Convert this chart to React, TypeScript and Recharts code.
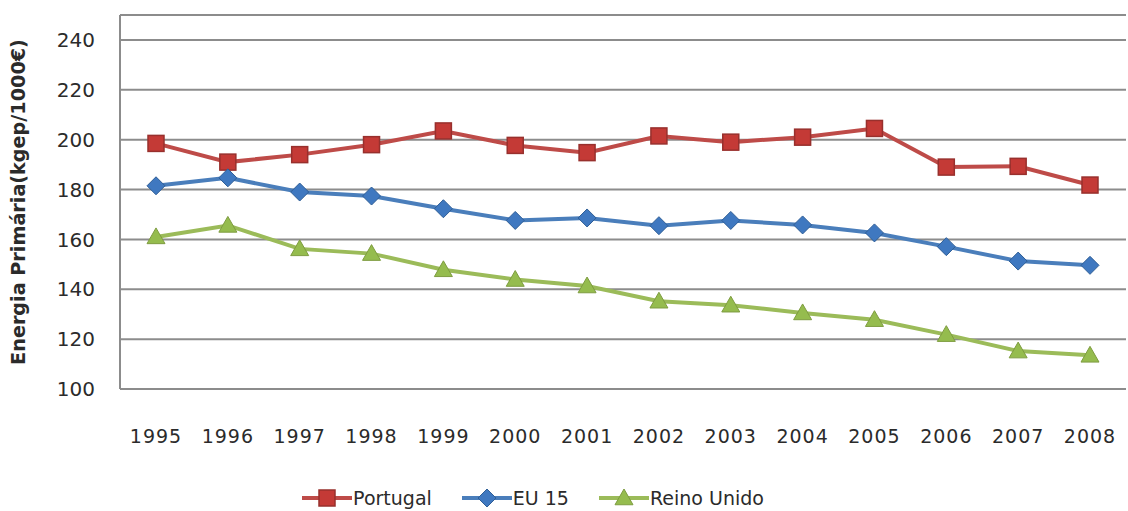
import React from "react";
import {
  CartesianGrid,
  Legend,
  Line,
  LineChart,
  XAxis,
  YAxis,
} from "recharts";

// Primary energy intensity (kgep per 1000€ of GDP), 1995–2008.
const years = [
  "1995", "1996", "1997", "1998", "1999", "2000", "2001",
  "2002", "2003", "2004", "2005", "2006", "2007", "2008",
];
const portugal = [198.5, 191, 194, 198, 203.5, 197.7, 194.8, 201.5, 199, 201, 204.5, 189, 189.3, 181.8];
const eu15 = [181.5, 184.7, 179, 177.4, 172.3, 167.6, 168.6, 165.5, 167.6, 165.8, 162.6, 157.1, 151.3, 149.6];
const reinoUnido = [161, 165.6, 156.2, 154.3, 147.8, 143.9, 141.3, 135.2, 133.6, 130.5, 127.8, 121.8, 115.2, 113.5];
const yTicks = [100, 120, 140, 160, 180, 200, 220, 240];

const data = years.map((year, i) => ({
  year,
  portugal: portugal[i],
  eu15: eu15[i],
  reinoUnido: reinoUnido[i],
}));

const RED = "#BE4B48";
const RED_EDGE = "#98302D";
const BLUE = "#4A7EBB";
const BLUE_EDGE = "#2F5E96";
const GREEN = "#9BBB59";
const GREEN_EDGE = "#7E9C40";
const GRID = "#8C8C8C";
const TEXT = "#2b2b2b";
const FONT = "'DejaVu Sans', Verdana, sans-serif";

type DotProps = { cx?: number; cy?: number };

function SquareDot({ cx = 0, cy = 0 }: DotProps) {
  const s = 8;
  return (
    <rect x={cx - s} y={cy - s} width={s * 2} height={s * 2} fill="#C43A36" stroke={RED_EDGE} strokeWidth={1.5} />
  );
}

function DiamondDot({ cx = 0, cy = 0 }: DotProps) {
  const s = 9;
  return (
    <path
      d={`M${cx},${cy - s} L${cx + s},${cy} L${cx},${cy + s} L${cx - s},${cy} Z`}
      fill="#3F78C0"
      stroke={BLUE_EDGE}
      strokeWidth={1}
    />
  );
}

function TriangleDot({ cx = 0, cy = 0 }: DotProps) {
  const s = 9;
  return (
    <path
      d={`M${cx},${cy - s} L${cx + s},${cy + s * 0.75} L${cx - s},${cy + s * 0.75} Z`}
      fill="#95BC4E"
      stroke={GREEN_EDGE}
      strokeWidth={1}
    />
  );
}

const legendItems = [
  { name: "Portugal", color: RED, Dot: SquareDot },
  { name: "EU 15", color: BLUE, Dot: DiamondDot },
  { name: "Reino Unido", color: GREEN, Dot: TriangleDot },
];

function ChartLegend() {
  return (
    <div
      style={{
        display: "flex",
        justifyContent: "center",
        alignItems: "center",
        gap: 30,
        paddingTop: 16,
        paddingRight: 60,
        fontFamily: FONT,
        fontSize: 19,
        color: TEXT,
      }}
    >
      {legendItems.map(({ name, color, Dot }) => (
        <div key={name} style={{ display: "flex", alignItems: "center" }}>
          <svg width={50} height={22}>
            <line x1={0} y1={11} x2={50} y2={11} stroke={color} strokeWidth={4} />
            <Dot cx={25} cy={11} />
          </svg>
          <span style={{ marginLeft: 1 }}>{name}</span>
        </div>
      ))}
    </div>
  );
}

export default function App() {
  return (
    <div style={{ position: "absolute", left: 0, top: 0, width: 1128, height: 511, background: "#fff" }}>
      <LineChart
        width={1128}
        height={511}
        data={data}
        margin={{ top: 15, right: 2, left: 0, bottom: 0 }}
        style={{ fontFamily: FONT }}
      >
        <CartesianGrid vertical={false} stroke={GRID} strokeWidth={2} />
        <XAxis
          dataKey="year"
          height={82}
          padding={{ left: 36, right: 36 }}
          tickLine={false}
          axisLine={{ stroke: GRID, strokeWidth: 2 }}
          tick={{ fill: TEXT, fontSize: 19, letterSpacing: 1 }}
          tickMargin={35}
          interval={0}
        />
        <YAxis
          width={120}
          domain={[100, 250]}
          ticks={yTicks}
          tickLine={false}
          tickSize={0}
          tickMargin={25}
          axisLine={{ stroke: GRID, strokeWidth: 2 }}
          tick={{ fill: TEXT, fontSize: 20 }}
          label={{
            value: "Energia Primária(kgep/1000€)",
            angle: -90,
            position: "insideLeft",
            dx: 13,
            dy: 0,
            style: { fontWeight: "bold", fontSize: 19.2, fill: TEXT, textAnchor: "middle" },
          }}
        />
        <Legend verticalAlign="bottom" height={40} content={<ChartLegend />} />
        <Line
          dataKey="portugal"
          name="Portugal"
          stroke={RED}
          strokeWidth={4}
          dot={<SquareDot />}
          activeDot={false}
          isAnimationActive={false}
        />
        <Line
          dataKey="eu15"
          name="EU 15"
          stroke={BLUE}
          strokeWidth={4}
          dot={<DiamondDot />}
          activeDot={false}
          isAnimationActive={false}
        />
        <Line
          dataKey="reinoUnido"
          name="Reino Unido"
          stroke={GREEN}
          strokeWidth={4}
          dot={<TriangleDot />}
          activeDot={false}
          isAnimationActive={false}
        />
      </LineChart>
    </div>
  );
}
